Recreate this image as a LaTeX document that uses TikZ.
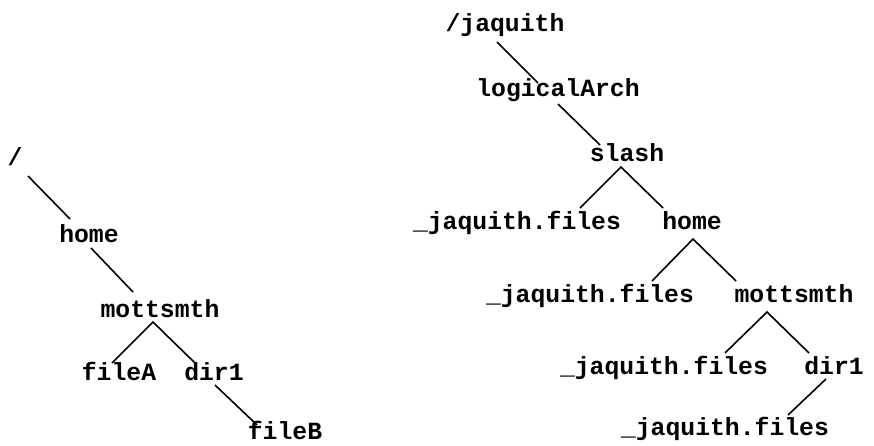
\documentclass[tikz,border=0pt]{standalone}
\usepackage{fontspec}
\setmonofont{Liberation Mono}
\begin{document}
\begin{tikzpicture}[x=1pt,y=-1pt,
  lbl/.style={anchor=base,inner sep=0pt,font=\ttfamily\bfseries\fontsize{24.75}{28}\selectfont},
  edge/.style={line width=1.6pt,line cap=butt}]
\useasboundingbox (0,0) rectangle (874,445);
% left tree
\node[lbl] (n1) at (15,165) {/};
\node[lbl] (n2) at (89,242) {home};
\node[lbl] (n3) at (160,317) {mottsmth};
\node[lbl] (n4) at (119,380) {fileA};
\node[lbl] (n5) at (214,380) {dir1};
\node[lbl] (n6) at (285,439) {fileB};
\draw[edge] ([shift={(13,11)}]n1.base) -- ([shift={(-19,-23)}]n2.base);
\draw[edge] ([shift={(2,6)}]n2.base) -- ([shift={(-27,-25)}]n3.base);
\draw[edge] ([shift={(-7,-17)}]n4.base) -- ([shift={(-7,5)}]n3.base) -- ([shift={(-19,-17)}]n5.base);
\draw[edge] ([shift={(1,5)}]n5.base) -- ([shift={(-28,-14)}]n6.base);
% right tree
\node[lbl] (r1) at (505,31) {/jaquith};
\node[lbl] (r2) at (558,96) {logicalArch};
\node[lbl] (r3) at (627,161) {slash};
\node[lbl] (r4) at (517,229) {\_jaquith.files};
\node[lbl] (r5) at (692,229) {home};
\node[lbl] (r6) at (590,302) {\_jaquith.files};
\node[lbl] (r7) at (794,302) {mottsmth};
\node[lbl] (r8) at (664,374) {\_jaquith.files};
\node[lbl] (r9) at (834,374) {dir1};
\node[lbl] (r10) at (725,435) {\_jaquith.files};
\draw[edge] ([shift={(-8,11)}]r1.base) -- ([shift={(-20,-13)}]r2.base);
\draw[edge] ([shift={(0,8)}]r2.base) -- ([shift={(-27,-16)}]r3.base);
\draw[edge] ([shift={(63,-21)}]r4.base) -- ([shift={(-6,6)}]r3.base) -- ([shift={(-29,-21)}]r5.base);
\draw[edge] ([shift={(62,-21)}]r6.base) -- ([shift={(1,10)}]r5.base) -- ([shift={(-58,-21)}]r7.base);
\draw[edge] ([shift={(61,-21)}]r8.base) -- ([shift={(-27,10)}]r7.base) -- ([shift={(-25,-21)}]r9.base);
\draw[edge] ([shift={(-8,5)}]r9.base) -- ([shift={(63,-20)}]r10.base);
\end{tikzpicture}
\end{document}
